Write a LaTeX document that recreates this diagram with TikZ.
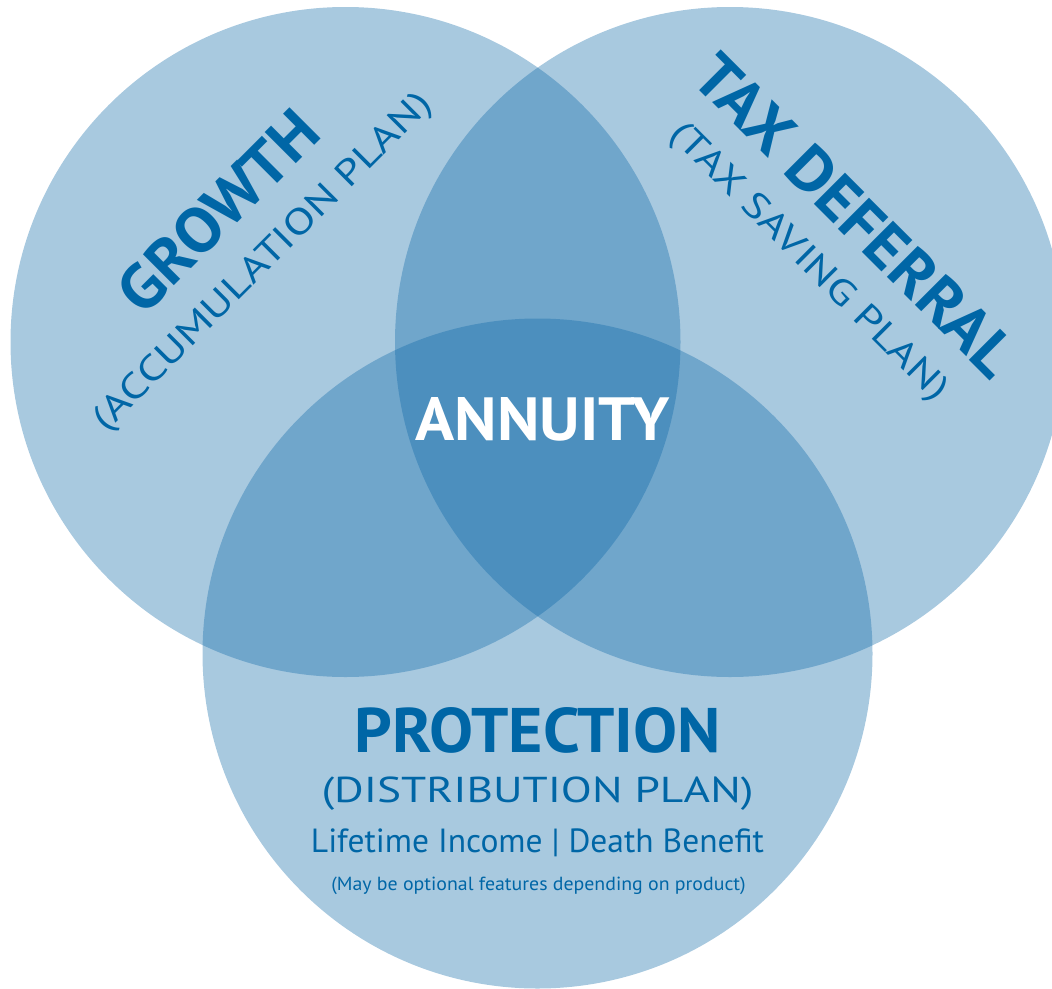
\documentclass[tikz,border=0pt]{standalone}
\usepackage{fontspec}
\setmainfont{PT Sans}
\definecolor{venn}{RGB}{13,104,167}
\definecolor{txt}{RGB}{0,102,166}
\newcommand{\stretchx}[2]{\scalebox{#1}[1]{#2}}
\begin{document}
\begin{tikzpicture}[x=1pt,y=-1pt,
  venncircle/.style={circle, minimum size=670pt, inner sep=0pt, fill=venn, fill opacity=0.36, draw=none},
  bigtitle/.style={text=txt, font=\bfseries\fontsize{63}{63}\selectfont, inner sep=0pt, anchor=base},
  subtitle/.style={text=txt, font=\fontsize{36}{36}\selectfont, inner sep=0pt, anchor=base},
  detail/.style={text=txt, font=\fontsize{33.5}{33.5}\selectfont, inner sep=0pt, anchor=base},
  note/.style={text=txt, font=\fontsize{19}{19}\selectfont, inner sep=0pt, anchor=base},
  centre/.style={text=white, font=\bfseries\fontsize{61}{61}\selectfont, inner sep=0pt, anchor=base}]
\useasboundingbox (0,0) rectangle (1052,988);
\clip (0,0) rectangle (1052,988);
\node[venncircle] (growth) at (345.5,342) {};
\node[venncircle] (tax) at (730,342) {};
\node[venncircle] (protection) at (537.5,653.5) {};
\node[centre] (annuity) at (542.5,440) {\stretchx{1.06}{ANNUITY}};
\node[bigtitle, rotate=45] (growthT) at (233.6,226.6) {\stretchx{1.05}{GROWTH}};
\node[subtitle, rotate=45] (growthS) at (270,269) {\stretchx{1.26}{(ACCUMULATION PLAN)}};
\node[bigtitle, rotate=-45] (taxT) at (840.4,230.6) {\stretchx{1.05}{TAX DEFERRAL}};
\node[subtitle, rotate=-45] (taxS) at (802,269) {\stretchx{1.26}{(TAX SAVING PLAN)}};
\node[bigtitle] (protT) at (537.5,752) {\stretchx{1.046}{PROTECTION}};
\node[subtitle] (protS) at (537.5,802) {\stretchx{1.26}{(DISTRIBUTION PLAN)}};
\node[detail] (protD) at (537.5,852) {Lifetime Income | Death Benefit};
\node[note] (protN) at (538.5,890) {\stretchx{1.045}{(May be optional features depending on product)}};
\end{tikzpicture}
\end{document}
